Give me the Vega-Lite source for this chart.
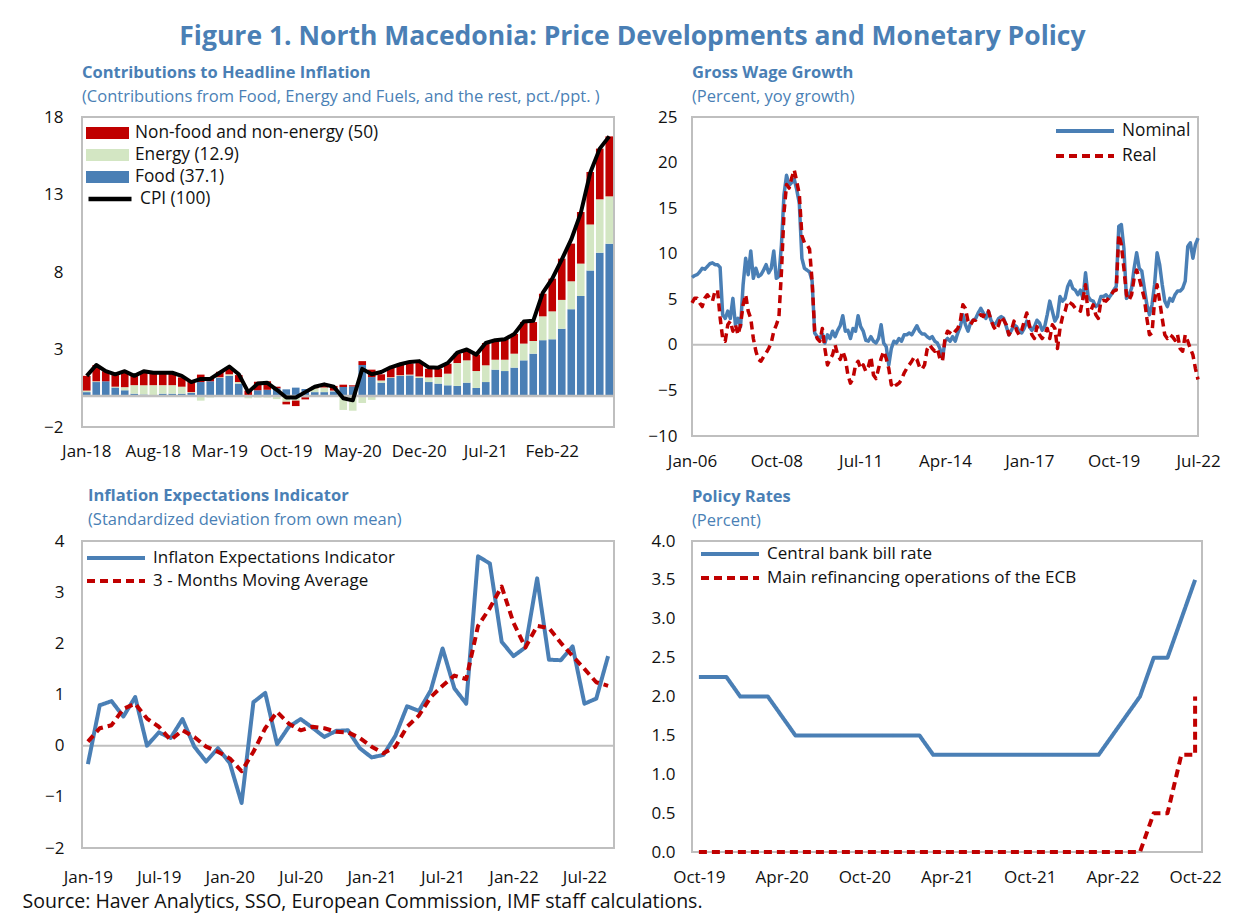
{
"$schema": "https://vega.github.io/schema/vega-lite/v6.json",
"background": "white",
"padding": {"left": 22, "top": 24, "right": 10, "bottom": 4},
"config": {
  "font": "Open Sans",
  "view": {"stroke": "#bfbfbf", "strokeWidth": 2},
  "axis": {"labelFont": "Open Sans", "labelFontSize": 17, "labelColor": "#111111", "grid": false, "ticks": false, "domain": false, "labelPadding": 17},
  "axisX": {"labelAngle": 0},
  "title": {"anchor": "start", "frame": "group", "color": "#4a7fb5", "font": "Open Sans", "fontSize": 16.5, "fontWeight": "bold", "subtitleColor": "#4a7fb5", "subtitleFont": "Open Sans", "subtitleFontSize": 16.5, "subtitlePadding": 7.5, "offset": 3},
  "legend": {"labelFont": "Open Sans", "labelFontSize": 17.3, "labelColor": "#111111", "labelLimit": 500, "padding": 0}
},
"title": {"text": "Source: Haver Analytics, SSO, European Commission, IMF staff calculations.", "orient": "bottom", "anchor": "start", "frame": "bounds", "fontSize": 19.5, "fontWeight": "normal", "color": "#111111", "offset": 6, "dx": -20},
"vconcat": [{
  "title": {"text": "Figure 1. North Macedonia: Price Developments and Monetary Policy", "anchor": "middle", "frame": "bounds", "fontSize": 26.5, "fontWeight": "bold", "color": "#4a7fb5", "offset": 13},
  "columns": 2,
  "spacing": {"row": 15, "column": 29},
  "resolve": {"scale": {"x": "independent", "y": "independent", "fill": "independent", "stroke": "independent", "strokeDash": "independent"}},
  "concat": [
  {
    "width": 532, "height": 310,
    "title": {"text": "Contributions to Headline Inflation", "subtitle": "(Contributions from Food, Energy and Fuels, and the rest, pct./ppt. )"},
    "data": {"values": [
{"m":"Jan-18","food":0.25,"energy":0.10,"other":0.95,"cpi":1.30},
{"m":"Feb-18","food":0.90,"energy":0.05,"other":1.05,"cpi":2.00},
{"m":"Mar-18","food":0.95,"energy":0.00,"other":0.65,"cpi":1.60},
{"m":"Apr-18","food":0.55,"energy":0.05,"other":0.75,"cpi":1.40},
{"m":"May-18","food":0.37,"energy":0.20,"other":0.95,"cpi":1.60},
{"m":"Jun-18","food":0.15,"energy":0.55,"other":0.60,"cpi":1.30},
{"m":"Jul-18","food":0.10,"energy":0.60,"other":0.90,"cpi":1.60},
{"m":"Aug-18","food":0.05,"energy":0.65,"other":0.80,"cpi":1.50},
{"m":"Sep-18","food":0.15,"energy":0.55,"other":0.80,"cpi":1.50},
{"m":"Oct-18","food":0.15,"energy":0.55,"other":0.80,"cpi":1.50},
{"m":"Nov-18","food":0.15,"energy":0.45,"other":0.60,"cpi":1.30},
{"m":"Dec-18","food":0.20,"energy":0.05,"other":0.65,"cpi":0.90},
{"m":"Jan-19","food":0.90,"energy":-0.30,"other":0.48,"cpi":1.10},
{"m":"Feb-19","food":0.95,"energy":-0.10,"other":0.25,"cpi":1.10},
{"m":"Mar-19","food":1.16,"energy":0.05,"other":0.35,"cpi":1.50},
{"m":"Apr-19","food":1.30,"energy":0.10,"other":0.35,"cpi":1.90},
{"m":"May-19","food":0.80,"energy":0.10,"other":0.45,"cpi":1.40},
{"m":"Jun-19","food":0.05,"energy":-0.15,"other":0.30,"cpi":0.25},
{"m":"Jul-19","food":0.37,"energy":-0.10,"other":0.55,"cpi":0.80},
{"m":"Aug-19","food":0.40,"energy":-0.10,"other":0.55,"cpi":0.85},
{"m":"Sep-19","food":0.50,"energy":-0.20,"other":0.10,"cpi":0.40},
{"m":"Oct-19","food":0.43,"energy":-0.37,"other":-0.17,"cpi":-0.10},
{"m":"Nov-19","food":0.54,"energy":-0.30,"other":-0.35,"cpi":-0.10},
{"m":"Dec-19","food":0.45,"energy":-0.08,"other":-0.14,"cpi":0.25},
{"m":"Jan-20","food":0.25,"energy":0.25,"other":0.10,"cpi":0.60},
{"m":"Feb-20","food":0.25,"energy":0.30,"other":0.20,"cpi":0.75},
{"m":"Mar-20","food":0.30,"energy":0.05,"other":0.30,"cpi":0.60},
{"m":"Apr-20","food":0.58,"energy":-0.90,"other":0.15,"cpi":-0.15},
{"m":"May-20","food":0.62,"energy":-0.95,"other":0.07,"cpi":-0.28},
{"m":"Jun-20","food":2.00,"energy":-0.45,"other":0.25,"cpi":1.75},
{"m":"Jul-20","food":1.22,"energy":-0.25,"other":0.48,"cpi":1.40},
{"m":"Aug-20","food":0.86,"energy":0.14,"other":0.40,"cpi":1.55},
{"m":"Sep-20","food":1.16,"energy":0.05,"other":0.66,"cpi":1.85},
{"m":"Oct-20","food":1.29,"energy":0.05,"other":0.66,"cpi":2.05},
{"m":"Nov-20","food":1.33,"energy":0.05,"other":0.72,"cpi":2.20},
{"m":"Dec-20","food":1.16,"energy":0.10,"other":0.94,"cpi":2.25},
{"m":"Jan-21","food":0.90,"energy":0.30,"other":0.56,"cpi":1.85},
{"m":"Feb-21","food":0.80,"energy":0.42,"other":0.54,"cpi":1.83},
{"m":"Mar-21","food":0.69,"energy":0.75,"other":0.64,"cpi":2.13},
{"m":"Apr-21","food":0.65,"energy":1.48,"other":0.60,"cpi":2.80},
{"m":"May-21","food":0.86,"energy":1.44,"other":0.70,"cpi":3.00},
{"m":"Jun-21","food":0.52,"energy":1.09,"other":1.06,"cpi":2.67},
{"m":"Jul-21","food":0.90,"energy":1.08,"other":1.44,"cpi":3.42},
{"m":"Aug-21","food":1.70,"energy":0.64,"other":1.26,"cpi":3.60},
{"m":"Sep-21","food":1.61,"energy":0.73,"other":1.32,"cpi":3.66},
{"m":"Oct-21","food":1.83,"energy":0.90,"other":1.27,"cpi":4.00},
{"m":"Nov-21","food":2.30,"energy":1.08,"other":1.39,"cpi":4.80},
{"m":"Dec-21","food":2.73,"energy":0.82,"other":1.22,"cpi":4.85},
{"m":"Jan-22","food":3.60,"energy":1.54,"other":1.46,"cpi":6.65},
{"m":"Feb-22","food":3.66,"energy":1.80,"other":2.11,"cpi":7.57},
{"m":"Mar-22","food":4.34,"energy":1.86,"other":2.66,"cpi":8.80},
{"m":"Apr-22","food":5.60,"energy":1.80,"other":2.43,"cpi":10.10},
{"m":"May-22","food":6.45,"energy":2.09,"other":3.33,"cpi":11.80},
{"m":"Jun-22","food":8.10,"energy":2.97,"other":3.38,"cpi":14.40},
{"m":"Jul-22","food":9.25,"energy":3.44,"other":3.27,"cpi":15.96},
{"m":"Aug-22","food":9.83,"energy":3.05,"other":3.87,"cpi":16.75}
    ]},
    "layer": [
      {
        "transform": [
          {"fold": ["food", "energy", "other"], "as": ["key", "value"]},
          {"calculate": "datum.key === 'food' ? 'Food (37.1)' : datum.key === 'energy' ? 'Energy (12.9)' : 'Non-food and non-energy (50)'", "as": "series"},
          {"calculate": "datum.key === 'food' ? 0 : datum.key === 'energy' ? 1 : 2", "as": "ord"}
        ],
        "mark": {"type": "bar"},
        "encoding": {
          "x": {"field": "m", "type": "ordinal", "sort": null, "scale": {"paddingInner": 0.2, "paddingOuter": 0.1},
                "axis": {"title": null, "values": ["Jan-18","Aug-18","Mar-19","Oct-19","May-20","Dec-20","Jul-21","Feb-22"], "labelPadding": 16}},
          "y": {"field": "value", "type": "quantitative", "stack": "zero", "scale": {"domain": [-2, 18], "nice": false},
                "axis": {"title": null, "values": [-2, 3, 8, 13, 18], "labelPadding": 19}},
          "fill": {"field": "series", "type": "nominal",
                   "scale": {"domain": ["Non-food and non-energy (50)", "Energy (12.9)", "Food (37.1)"], "range": ["#c00000", "#d3e6c3", "#4a7fb5"]},
                   "legend": {"title": null, "orient": "none", "legendX": 4, "legendY": 6, "clipHeight": 20, "symbolType": "M-1,-0.28H1V0.28H-1Z", "symbolSize": 1849, "symbolStrokeWidth": 0, "labelOffset": 6, "rowPadding": 2}},
          "order": {"field": "ord", "type": "quantitative"}
        }
      },
      {"data": {"values": [{}]}, "mark": {"type": "rule", "color": "#bfbfbf", "strokeWidth": 2.5}, "encoding": {"y": {"datum": 0}}},
      {
        "mark": {"type": "line", "strokeWidth": 4, "strokeJoin": "round"},
        "encoding": {
          "x": {"field": "m", "type": "ordinal", "sort": null},
          "y": {"field": "cpi", "type": "quantitative"},
          "stroke": {"datum": "CPI (100)", "type": "nominal", "scale": {"range": ["#000000"]},
                     "legend": {"title": null, "orient": "none", "legendX": 4, "legendY": 72, "clipHeight": 20, "symbolType": "stroke", "symbolSize": 1849, "symbolStrokeWidth": 4.5, "labelOffset": 6}},
          "order": {"value": null}
        }
      }
    ]
  },
  {
    "width": 506, "height": 319,
    "title": {"text": "Gross Wage Growth", "subtitle": "(Percent, yoy growth)"},
    "layer": [
      {"data": {"values": [{}]}, "mark": {"type": "rule", "color": "#bfbfbf", "strokeWidth": 2}, "encoding": {"y": {"datum": 0}}},
      {
        "data": {"values": [
{"m":"Jan-06","n":7.4,"r":4.6},{"m":"Feb-06","n":7.6,"r":5.1},{"m":"Mar-06","n":7.7,"r":5.1},{"m":"Apr-06","n":8.0,"r":4.6},{"m":"May-06","n":8.4,"r":4.2},{"m":"Jun-06","n":8.3,"r":5.1},{"m":"Jul-06","n":8.6,"r":5.5},{"m":"Aug-06","n":8.9,"r":5.1},{"m":"Sep-06","n":9.0,"r":4.8},{"m":"Oct-06","n":8.8,"r":5.9},{"m":"Nov-06","n":8.8,"r":6.0},{"m":"Dec-06","n":8.5,"r":3.0},
{"m":"Jan-07","n":3.3,"r":0.7},{"m":"Feb-07","n":2.9,"r":0.4},{"m":"Mar-07","n":3.7,"r":2.2},{"m":"Apr-07","n":2.9,"r":2.6},{"m":"May-07","n":5.1,"r":1.5},{"m":"Jun-07","n":2.2,"r":2.2},{"m":"Jul-07","n":2.9,"r":1.1},{"m":"Aug-07","n":2.0,"r":2.2},{"m":"Sep-07","n":6.6,"r":4.4},{"m":"Oct-07","n":9.5,"r":5.5},{"m":"Nov-07","n":7.7,"r":3.7},{"m":"Dec-07","n":10.3,"r":2.9},
{"m":"Jan-08","n":7.3,"r":0.7},{"m":"Feb-08","n":8.4,"r":-0.7},{"m":"Mar-08","n":7.5,"r":-1.6},{"m":"Apr-08","n":7.7,"r":-1.8},{"m":"May-08","n":8.2,"r":-1.3},{"m":"Jun-08","n":8.8,"r":-0.9},{"m":"Jul-08","n":7.9,"r":-0.4},{"m":"Aug-08","n":8.4,"r":0.2},{"m":"Sep-08","n":10.3,"r":1.5},{"m":"Oct-08","n":7.3,"r":2.2},{"m":"Nov-08","n":7.5,"r":3.0},{"m":"Dec-08","n":11.0,"r":8.0},
{"m":"Jan-09","n":16.5,"r":14.5},{"m":"Feb-09","n":18.6,"r":17.6},{"m":"Mar-09","n":17.5,"r":17.2},{"m":"Apr-09","n":17.8,"r":18.3},{"m":"May-09","n":18.2,"r":19.2},{"m":"Jun-09","n":17.0,"r":17.9},{"m":"Jul-09","n":15.5,"r":16.5},{"m":"Aug-09","n":9.5,"r":12.0},{"m":"Sep-09","n":8.4,"r":11.2},{"m":"Oct-09","n":8.2,"r":11.0},{"m":"Nov-09","n":8.0,"r":10.5},{"m":"Dec-09","n":7.0,"r":7.0},
{"m":"Jan-10","n":1.3,"r":1.5},{"m":"Feb-10","n":0.9,"r":0.7},{"m":"Mar-10","n":0.7,"r":0.4},{"m":"Apr-10","n":1.2,"r":1.8},{"m":"May-10","n":0.2,"r":-0.4},{"m":"Jun-10","n":1.1,"r":-2.2},{"m":"Jul-10","n":0.7,"r":-1.6},{"m":"Aug-10","n":1.5,"r":-1.1},{"m":"Sep-10","n":0.9,"r":0.0},{"m":"Oct-10","n":1.6,"r":-1.1},{"m":"Nov-10","n":2.1,"r":-1.6},{"m":"Dec-10","n":3.2,"r":-0.7},
{"m":"Jan-11","n":1.5,"r":-1.5},{"m":"Feb-11","n":1.6,"r":-3.3},{"m":"Mar-11","n":0.7,"r":-4.2},{"m":"Apr-11","n":1.8,"r":-3.7},{"m":"May-11","n":1.5,"r":-2.2},{"m":"Jun-11","n":3.2,"r":-1.8},{"m":"Jul-11","n":2.0,"r":-2.6},{"m":"Aug-11","n":1.5,"r":-2.2},{"m":"Sep-11","n":0.5,"r":-2.9},{"m":"Oct-11","n":0.4,"r":-2.4},{"m":"Nov-11","n":0.9,"r":-1.3},{"m":"Dec-11","n":0.4,"r":-3.3},
{"m":"Jan-12","n":0.2,"r":-3.7},{"m":"Feb-12","n":0.7,"r":-2.6},{"m":"Mar-12","n":2.2,"r":-1.5},{"m":"Apr-12","n":0.2,"r":-0.7},{"m":"May-12","n":-0.2,"r":-1.5},{"m":"Jun-12","n":-2.2,"r":-2.6},{"m":"Jul-12","n":-0.4,"r":-4.4},{"m":"Aug-12","n":0.4,"r":-4.0},{"m":"Sep-12","n":0.2,"r":-4.4},{"m":"Oct-12","n":0.7,"r":-4.2},{"m":"Nov-12","n":0.4,"r":-3.8},{"m":"Dec-12","n":1.1,"r":-3.1},
{"m":"Jan-13","n":1.1,"r":-2.6},{"m":"Feb-13","n":1.3,"r":-2.2},{"m":"Mar-13","n":1.1,"r":-1.8},{"m":"Apr-13","n":1.6,"r":-1.3},{"m":"May-13","n":2.1,"r":-1.6},{"m":"Jun-13","n":1.5,"r":-2.4},{"m":"Jul-13","n":1.2,"r":-2.7},{"m":"Aug-13","n":1.2,"r":-2.2},{"m":"Sep-13","n":0.9,"r":-0.5},{"m":"Oct-13","n":0.7,"r":0.0},{"m":"Nov-13","n":0.9,"r":-0.4},{"m":"Dec-13","n":0.4,"r":-0.7},
{"m":"Jan-14","n":0.2,"r":-0.4},{"m":"Feb-14","n":-0.4,"r":-1.5},{"m":"Mar-14","n":-1.5,"r":-1.8},{"m":"Apr-14","n":0.4,"r":0.7},{"m":"May-14","n":0.7,"r":1.5},{"m":"Jun-14","n":0.4,"r":1.3},{"m":"Jul-14","n":0.9,"r":1.1},{"m":"Aug-14","n":0.4,"r":1.5},{"m":"Sep-14","n":1.3,"r":1.8},{"m":"Oct-14","n":2.0,"r":2.6},{"m":"Nov-14","n":3.3,"r":4.4},{"m":"Dec-14","n":2.2,"r":4.0},
{"m":"Jan-15","n":1.5,"r":2.6},{"m":"Feb-15","n":2.4,"r":2.2},{"m":"Mar-15","n":2.7,"r":2.7},{"m":"Apr-15","n":2.9,"r":2.7},{"m":"May-15","n":3.5,"r":3.1},{"m":"Jun-15","n":4.0,"r":3.3},{"m":"Jul-15","n":3.5,"r":3.1},{"m":"Aug-15","n":2.9,"r":3.8},{"m":"Sep-15","n":3.7,"r":3.7},{"m":"Oct-15","n":2.7,"r":2.7},{"m":"Nov-15","n":2.2,"r":2.0},{"m":"Dec-15","n":2.4,"r":1.6},
{"m":"Jan-16","n":2.9,"r":2.2},{"m":"Feb-16","n":3.1,"r":3.1},{"m":"Mar-16","n":2.9,"r":2.7},{"m":"Apr-16","n":2.0,"r":2.2},{"m":"May-16","n":1.1,"r":1.1},{"m":"Jun-16","n":1.6,"r":1.6},{"m":"Jul-16","n":2.2,"r":2.6},{"m":"Aug-16","n":2.0,"r":1.6},{"m":"Sep-16","n":1.5,"r":1.1},{"m":"Oct-16","n":1.3,"r":1.6},{"m":"Nov-16","n":1.8,"r":2.6},{"m":"Dec-16","n":2.6,"r":3.5},
{"m":"Jan-17","n":2.0,"r":2.2},{"m":"Feb-17","n":1.6,"r":1.1},{"m":"Mar-17","n":2.0,"r":0.7},{"m":"Apr-17","n":2.7,"r":2.0},{"m":"May-17","n":2.4,"r":1.1},{"m":"Jun-17","n":1.6,"r":0.7},{"m":"Jul-17","n":2.0,"r":1.1},{"m":"Aug-17","n":3.3,"r":1.8},{"m":"Sep-17","n":4.8,"r":0.7},{"m":"Oct-17","n":3.7,"r":2.2},{"m":"Nov-17","n":2.6,"r":1.8},{"m":"Dec-17","n":3.1,"r":-0.4},
{"m":"Jan-18","n":5.3,"r":1.8},{"m":"Feb-18","n":4.8,"r":3.1},{"m":"Mar-18","n":5.1,"r":3.7},{"m":"Apr-18","n":6.4,"r":4.8},{"m":"May-18","n":7.0,"r":4.6},{"m":"Jun-18","n":6.2,"r":4.4},{"m":"Jul-18","n":6.0,"r":4.0},{"m":"Aug-18","n":5.5,"r":4.0},{"m":"Sep-18","n":6.0,"r":3.7},{"m":"Oct-18","n":5.1,"r":5.1},{"m":"Nov-18","n":7.9,"r":6.6},{"m":"Dec-18","n":5.3,"r":3.3},
{"m":"Jan-19","n":4.9,"r":3.7},{"m":"Feb-19","n":4.8,"r":4.4},{"m":"Mar-19","n":4.2,"r":3.3},{"m":"Apr-19","n":4.4,"r":2.9},{"m":"May-19","n":5.3,"r":4.8},{"m":"Jun-19","n":5.3,"r":4.9},{"m":"Jul-19","n":5.5,"r":4.8},{"m":"Aug-19","n":5.1,"r":5.1},{"m":"Sep-19","n":5.5,"r":5.5},{"m":"Oct-19","n":6.0,"r":5.9},{"m":"Nov-19","n":6.4,"r":6.0},{"m":"Dec-19","n":13.0,"r":12.1},
{"m":"Jan-20","n":13.2,"r":11.0},{"m":"Feb-20","n":10.6,"r":8.4},{"m":"Mar-20","n":5.1,"r":5.5},{"m":"Apr-20","n":5.5,"r":4.9},{"m":"May-20","n":6.2,"r":5.5},{"m":"Jun-20","n":8.4,"r":7.3},{"m":"Jul-20","n":10.1,"r":8.2},{"m":"Aug-20","n":8.4,"r":7.3},{"m":"Sep-20","n":8.1,"r":6.2},{"m":"Oct-20","n":6.2,"r":5.1},{"m":"Nov-20","n":4.4,"r":2.9},{"m":"Dec-20","n":3.3,"r":1.1},
{"m":"Jan-21","n":4.4,"r":1.3},{"m":"Feb-21","n":6.6,"r":4.8},{"m":"Mar-21","n":10.1,"r":6.6},{"m":"Apr-21","n":8.8,"r":4.8},{"m":"May-21","n":6.6,"r":2.9},{"m":"Jun-21","n":4.8,"r":1.1},{"m":"Jul-21","n":4.2,"r":0.7},{"m":"Aug-21","n":5.1,"r":1.1},{"m":"Sep-21","n":4.8,"r":0.9},{"m":"Oct-21","n":5.5,"r":0.5},{"m":"Nov-21","n":5.9,"r":1.1},{"m":"Dec-21","n":5.9,"r":-0.4},
{"m":"Jan-22","n":6.2,"r":-0.7},{"m":"Feb-22","n":7.0,"r":1.1},{"m":"Mar-22","n":10.8,"r":0.4},{"m":"Apr-22","n":11.2,"r":-0.4},{"m":"May-22","n":9.5,"r":-1.1},{"m":"Jun-22","n":11.0,"r":-2.6},{"m":"Jul-22","n":11.7,"r":-3.8}
        ]},
        "transform": [
          {"fold": ["n", "r"], "as": ["key", "v"]},
          {"calculate": "datum.key === 'n' ? 'Nominal' : 'Real'", "as": "s"}
        ],
        "mark": {"type": "line", "strokeWidth": 3.5, "strokeJoin": "round"},
        "encoding": {
          "x": {"field": "m", "type": "ordinal", "sort": null, "scale": {"type": "point", "padding": 0},
                "axis": {"title": null, "values": ["Jan-06","Oct-08","Jul-11","Apr-14","Jan-17","Oct-19","Jul-22"], "labelPadding": 17.6}},
          "y": {"field": "v", "type": "quantitative", "scale": {"domain": [-10, 25], "nice": false},
                "axis": {"title": null, "values": [-10, -5, 0, 5, 10, 15, 20, 25], "labelPadding": 15}},
          "stroke": {"field": "s", "type": "nominal", "scale": {"domain": ["Nominal", "Real"], "range": ["#4a7fb5", "#c00000"]},
                     "legend": {"title": null, "orient": "none", "legendX": 362, "legendY": 4, "clipHeight": 20, "symbolType": "stroke", "symbolSize": 3364, "symbolStrokeWidth": 4, "labelOffset": 6, "rowPadding": 5}},
          "strokeDash": {"field": "s", "type": "nominal", "scale": {"domain": ["Nominal", "Real"], "range": [[1, 0], [8, 5]]},
                     "legend": {"title": null, "orient": "none", "legendX": 362, "legendY": 4, "clipHeight": 20, "symbolType": "stroke", "symbolSize": 3364, "symbolStrokeWidth": 4, "labelOffset": 6, "rowPadding": 5}},
          "order": {"value": null}
        }
      }
    ]
  },
  {
    "width": 532, "height": 307,
    "title": {"text": "Inflation Expectations Indicator", "subtitle": "(Standardized deviation from own mean)", "dx": 6, "offset": 4},
    "layer": [
      {"data": {"values": [{}]}, "mark": {"type": "rule", "color": "#bfbfbf", "strokeWidth": 2}, "encoding": {"y": {"datum": 0}}},
      {
        "data": {"values": [
{"m":"Jan-19","ie":-0.36,"ma":0.08},{"m":"Feb-19","ie":0.79,"ma":0.34},{"m":"Mar-19","ie":0.87,"ma":0.40},{"m":"Apr-19","ie":0.57,"ma":0.72},{"m":"May-19","ie":0.95,"ma":0.82},{"m":"Jun-19","ie":0.00,"ma":0.53},{"m":"Jul-19","ie":0.26,"ma":0.37},{"m":"Aug-19","ie":0.15,"ma":0.11},{"m":"Sep-19","ie":0.52,"ma":0.30},{"m":"Oct-19","ie":-0.02,"ma":0.17},{"m":"Nov-19","ie":-0.31,"ma":-0.02},{"m":"Dec-19","ie":-0.05,"ma":-0.12},
{"m":"Jan-20","ie":-0.34,"ma":-0.25},{"m":"Feb-20","ie":-1.12,"ma":-0.50},{"m":"Mar-20","ie":0.85,"ma":-0.12},{"m":"Apr-20","ie":1.03,"ma":0.34},{"m":"May-20","ie":0.03,"ma":0.66},{"m":"Jun-20","ie":0.37,"ma":0.43},{"m":"Jul-20","ie":0.52,"ma":0.30},{"m":"Aug-20","ie":0.35,"ma":0.37},{"m":"Sep-20","ie":0.17,"ma":0.34},{"m":"Oct-20","ie":0.29,"ma":0.27},{"m":"Nov-20","ie":0.30,"ma":0.26},{"m":"Dec-20","ie":-0.05,"ma":0.15},
{"m":"Jan-21","ie":-0.23,"ma":-0.02},{"m":"Feb-21","ie":-0.18,"ma":-0.15},{"m":"Mar-21","ie":0.19,"ma":-0.02},{"m":"Apr-21","ie":0.77,"ma":0.37},{"m":"May-21","ie":0.68,"ma":0.59},{"m":"Jun-21","ie":1.08,"ma":0.95},{"m":"Jul-21","ie":1.90,"ma":1.17},{"m":"Aug-21","ie":1.12,"ma":1.37},{"m":"Sep-21","ie":0.82,"ma":1.30},{"m":"Oct-21","ie":3.70,"ma":2.34},{"m":"Nov-21","ie":3.56,"ma":2.69},{"m":"Dec-21","ie":2.03,"ma":3.11},
{"m":"Jan-22","ie":1.75,"ma":2.40},{"m":"Feb-22","ie":1.92,"ma":1.92},{"m":"Mar-22","ie":3.27,"ma":2.34},{"m":"Apr-22","ie":1.68,"ma":2.30},{"m":"May-22","ie":1.67,"ma":2.01},{"m":"Jun-22","ie":1.94,"ma":1.75},{"m":"Jul-22","ie":0.82,"ma":1.50},{"m":"Aug-22","ie":0.92,"ma":1.24},{"m":"Sep-22","ie":1.75,"ma":1.17}
        ]},
        "transform": [
          {"fold": ["ie", "ma"], "as": ["key", "v"]},
          {"calculate": "datum.key === 'ie' ? 'Inflaton Expectations Indicator' : '3 - Months Moving Average'", "as": "s"}
        ],
        "mark": {"type": "line", "strokeWidth": 4, "strokeJoin": "round"},
        "encoding": {
          "x": {"field": "m", "type": "ordinal", "sort": null, "scale": {"type": "point", "padding": 0.5},
                "axis": {"title": null, "values": ["Jan-19","Jul-19","Jan-20","Jul-20","Jan-21","Jul-21","Jan-22","Jul-22"], "labelPadding": 21}},
          "y": {"field": "v", "type": "quantitative", "scale": {"domain": [-2, 4], "nice": false},
                "axis": {"title": null, "values": [-2, -1, 0, 1, 2, 3, 4], "labelPadding": 18}},
          "stroke": {"field": "s", "type": "nominal", "scale": {"domain": ["Inflaton Expectations Indicator", "3 - Months Moving Average"], "range": ["#4a7fb5", "#c00000"]},
                     "legend": {"title": null, "orient": "none", "legendX": 3, "legendY": 7, "clipHeight": 20, "symbolType": "stroke", "symbolSize": 3364, "symbolStrokeWidth": 4, "labelOffset": 6, "rowPadding": 3, "labelFontSize": 17}},
          "strokeDash": {"field": "s", "type": "nominal", "scale": {"domain": ["Inflaton Expectations Indicator", "3 - Months Moving Average"], "range": [[1, 0], [8, 5]]},
                     "legend": {"title": null, "orient": "none", "legendX": 3, "legendY": 7, "clipHeight": 20, "symbolType": "stroke", "symbolSize": 3364, "symbolStrokeWidth": 4, "labelOffset": 6, "rowPadding": 3, "labelFontSize": 17}},
          "order": {"value": null}
        }
      }
    ]
  },
  {
    "width": 510, "height": 311,
    "title": {"text": "Policy Rates", "subtitle": "(Percent)", "offset": 3},
    "data": {"values": [
{"m":"Oct-19","cb":2.25,"ecb":0},{"m":"Nov-19","cb":2.25,"ecb":0},{"m":"Dec-19","cb":2.25,"ecb":0},
{"m":"Jan-20","cb":2.0,"ecb":0},{"m":"Feb-20","cb":2.0,"ecb":0},{"m":"Mar-20","cb":2.0,"ecb":0},{"m":"Apr-20","cb":1.75,"ecb":0},{"m":"May-20","cb":1.5,"ecb":0},{"m":"Jun-20","cb":1.5,"ecb":0},{"m":"Jul-20","cb":1.5,"ecb":0},{"m":"Aug-20","cb":1.5,"ecb":0},{"m":"Sep-20","cb":1.5,"ecb":0},{"m":"Oct-20","cb":1.5,"ecb":0},{"m":"Nov-20","cb":1.5,"ecb":0},{"m":"Dec-20","cb":1.5,"ecb":0},
{"m":"Jan-21","cb":1.5,"ecb":0},{"m":"Feb-21","cb":1.5,"ecb":0},{"m":"Mar-21","cb":1.25,"ecb":0},{"m":"Apr-21","cb":1.25,"ecb":0},{"m":"May-21","cb":1.25,"ecb":0},{"m":"Jun-21","cb":1.25,"ecb":0},{"m":"Jul-21","cb":1.25,"ecb":0},{"m":"Aug-21","cb":1.25,"ecb":0},{"m":"Sep-21","cb":1.25,"ecb":0},{"m":"Oct-21","cb":1.25,"ecb":0},{"m":"Nov-21","cb":1.25,"ecb":0},{"m":"Dec-21","cb":1.25,"ecb":0},
{"m":"Jan-22","cb":1.25,"ecb":0},{"m":"Feb-22","cb":1.25,"ecb":0},{"m":"Mar-22","cb":1.25,"ecb":0},{"m":"Apr-22","cb":1.5,"ecb":0},{"m":"May-22","cb":1.75,"ecb":0},{"m":"Jun-22","cb":2.0,"ecb":0},{"m":"Jul-22","cb":2.5,"ecb":0.5},{"m":"Aug-22","cb":2.5,"ecb":0.5},{"m":"Sep-22","cb":3.0,"ecb":1.25},{"m":"Oct-22","cb":3.5,"ecb":1.25},
{"m":"Oct-22","ecb":2.0}
    ]},
    "transform": [
      {"fold": ["cb", "ecb"], "as": ["key", "v"]},
      {"calculate": "datum.key === 'cb' ? 'Central bank bill rate' : 'Main refinancing operations of the ECB'", "as": "s"}
    ],
    "mark": {"type": "line", "strokeWidth": 4, "strokeJoin": "round"},
    "encoding": {
      "x": {"field": "m", "type": "ordinal", "sort": null, "scale": {"type": "point", "padding": 0.5},
            "axis": {"title": null, "values": ["Oct-19","Apr-20","Oct-20","Apr-21","Oct-21","Apr-22","Oct-22"], "labelPadding": 17.6}},
      "y": {"field": "v", "type": "quantitative", "scale": {"domain": [0, 4], "nice": false},
            "axis": {"title": null, "values": [0, 0.5, 1, 1.5, 2, 2.5, 3, 3.5, 4], "format": ".1f", "labelPadding": 17}},
      "stroke": {"field": "s", "type": "nominal", "scale": {"domain": ["Central bank bill rate", "Main refinancing operations of the ECB"], "range": ["#4a7fb5", "#c00000"]},
                 "legend": {"title": null, "orient": "none", "legendX": 7, "legendY": 3, "clipHeight": 20, "symbolType": "stroke", "symbolSize": 3364, "symbolStrokeWidth": 4, "labelOffset": 6, "rowPadding": 4, "labelFontSize": 17}},
      "strokeDash": {"field": "s", "type": "nominal", "scale": {"domain": ["Central bank bill rate", "Main refinancing operations of the ECB"], "range": [[1, 0], [8, 5]]},
                 "legend": {"title": null, "orient": "none", "legendX": 7, "legendY": 3, "clipHeight": 20, "symbolType": "stroke", "symbolSize": 3364, "symbolStrokeWidth": 4, "labelOffset": 6, "rowPadding": 4, "labelFontSize": 17}},
      "order": {"value": null}
    }
  }
  ]
}]
}
